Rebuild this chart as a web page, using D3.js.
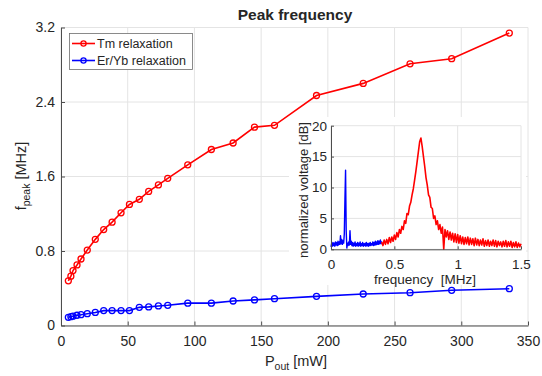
<!DOCTYPE html>
<html lang="en">
<head>
<meta charset="UTF-8">
<title>Peak frequency</title>
<script src="https://d3js.org/d3.v7.min.js"></script>
<style>
  body { margin: 0; background: #fff; }
  text { font-family: "Liberation Sans", Arial, Helvetica, sans-serif; fill: #262626; }
</style>
</head>
<body>
<svg id="chart" width="542" height="376"></svg>
<script>
// output power [mW] (shared by both series)
var pout = [5.5, 7.4, 9, 12, 15, 19.7, 25.7, 32, 38.3, 45, 51.3, 58.7, 65.7, 73, 80,
            95, 112.7, 129, 145, 160, 191.5, 226.5, 261.6, 292.8, 336];
// peak frequency [MHz]
var tmPeak = [0.48, 0.53, 0.59, 0.65, 0.714, 0.81, 0.925, 1.03, 1.11, 1.21, 1.30, 1.355, 1.44, 1.51, 1.58,
              1.725, 1.89, 1.96, 2.13, 2.15, 2.47, 2.60, 2.81, 2.865, 3.14];
var erPeak = [0.088, 0.095, 0.10, 0.11, 0.116, 0.127, 0.14, 0.16, 0.16, 0.16, 0.16, 0.195, 0.20, 0.21, 0.217,
              0.24, 0.24, 0.263, 0.275, 0.288, 0.313, 0.338, 0.352, 0.378, 0.395];
var seriesNames = ["Tm relaxation", "Er/Yb relaxation"];

var xTicks = [0, 50, 100, 150, 200, 250, 300, 350];
var yTicks = [0, 0.8, 1.6, 2.4, 3.2];

// inset spectrum, blue part 0 - 0.4 MHz every 0.005 MHz
var blueStart = 0, blueStep = 0.005;
var blueDb = [0.4, 0.9, 0.5, 1.1, 0.6, 1.0, 0.5, 1.2, 0.7, 1.1, 0.6, 1.3, 0.7, 1.2, 0.8, 2.2,
              0.9, 1.6, 0.8, 1.4, 1.0, 2.5, 8.0, 12.8, 3.0, 0.2, 1.0, 0.6, 1.2, 0.7, 3.0, 0.8,
              1.3, 0.6, 1.1, 0.5, 1.0, 0.6, 1.2, 0.5, 0.9, 0.6, 1.1, 0.5, 1.0, 0.6, 1.2, 0.5,
              0.9, 0.6, 1.1, 0.5, 0.9, 0.6, 1.0, 0.5, 1.1, 0.6, 0.9, 0.5, 1.0, 0.6, 1.1, 0.6,
              0.9, 0.7, 1.2, 0.6, 1.1, 0.7, 1.3, 0.7, 1.2, 0.8, 1.4, 0.8, 1.3, 0.9, 1.5, 0.9, 1.3];
// red part 0.4 - 1.5 MHz every 0.01 MHz
var redStart = 0.4, redStep = 0.01;
var redDb = [1.2, 0.6, 1.5, 0.8, 1.6, 0.9, 1.9, 1.1, 2.0, 1.3,
             2.3, 1.6, 2.7, 2.0, 3.2, 2.6, 3.7, 3.2, 4.6, 4.2,
             5.8, 5.6, 7.0, 7.6, 8.8, 9.8, 11.2, 12.6, 14.2, 15.8,
             17.4, 18.0, 16.6, 15.0, 13.4, 11.6, 10.4, 8.8, 8.4, 6.8,
             6.6, 5.0, 5.4, 4.0, 4.6, 3.2, 4.0, 2.6, 3.6, 0.0,
             3.2, 2.0, 3.0, 1.6, 2.8, 1.5, 2.6, 1.2, 2.5, 1.1,
             2.4, 1.0, 2.2, 0.9, 2.0, 0.8, 1.9, 0.9, 2.0, 0.7,
             1.8, 0.8, 1.7, 0.6, 1.8, 0.7, 1.6, 0.6, 1.5, 0.7,
             1.7, 0.5, 1.4, 0.6, 1.5, 0.5, 1.3, 0.6, 1.5, 0.5,
             1.4, 0.4, 1.3, 0.6, 1.2, 0.4, 1.3, 0.5, 1.4, 0.4,
             1.2, 0.5, 1.3, 0.3, 1.1, 0.4, 1.2, 0.3, 1.0, 0.4, 0.9];
var insetXTicks = [0, 0.5, 1, 1.5];
var insetYTicks = [0, 5, 10, 15, 20];

var svg = d3.select("#chart");
var gridColor = "#e4e4e4", axisColor = "#4d4d4d";

var x = d3.scaleLinear().domain([0, 350]).range([61, 528]);
var y = d3.scaleLinear().domain([0, 3.2]).range([325.5, 27.5]);

// grid
var grid = svg.append("g").attr("stroke", gridColor).attr("stroke-width", 1);
grid.selectAll(".gx").data(xTicks).enter().append("line")
    .attr("x1", d => x(d)).attr("x2", d => x(d)).attr("y1", y(0)).attr("y2", y(3.2));
grid.selectAll(".gy").data(yTicks).enter().append("line")
    .attr("x1", x(0)).attr("x2", x(350)).attr("y1", d => y(d)).attr("y2", d => y(d));

// axes, ticks inside
var xAxis = svg.append("g").attr("transform", "translate(0," + y(0) + ")")
    .call(d3.axisBottom(x).tickValues(xTicks).tickSizeInner(-4).tickSizeOuter(0).tickPadding(10.5));
var yAxis = svg.append("g").attr("transform", "translate(" + x(0) + ",0)")
    .call(d3.axisLeft(y).tickValues(yTicks).tickFormat(d3.format("")).tickSizeInner(-4).tickSizeOuter(0).tickPadding(6));
[xAxis, yAxis].forEach(function (a) {
    a.selectAll("path, line").attr("stroke", axisColor);
    a.selectAll("text").style("font-size", "14px").attr("fill", "#262626")
        .style("font-family", '"Liberation Sans", Arial, sans-serif');
});

// title and labels
svg.append("text").attr("x", 295).attr("y", 20).attr("text-anchor", "middle")
    .style("font-size", "15.5px").style("font-weight", "bold").attr("fill", "#000").text("Peak frequency");

var xl = svg.append("text").attr("x", 296).attr("y", 366).attr("text-anchor", "middle").style("font-size", "14.5px");
xl.append("tspan").text("P");
xl.append("tspan").attr("dy", 4).style("font-size", "10.5px").text("out");
xl.append("tspan").attr("dy", -4).text(" [mW]");

var yl = svg.append("text").attr("transform", "translate(26,176) rotate(-90)").attr("text-anchor", "middle").style("font-size", "14.5px");
yl.append("tspan").text("f");
yl.append("tspan").attr("dy", 4).style("font-size", "10.5px").text("peak");
yl.append("tspan").attr("dy", -4).text(" [MHz]");

// series
var colors = ["#ff0000", "#0000ff"];
var series = [tmPeak, erPeak];
var line = d3.line().x(d => x(d[0])).y(d => y(d[1]));
series.forEach(function (vals, k) {
    var pts = pout.map((p, i) => [p, vals[i]]);
    svg.append("path").datum(pts).attr("d", line)
        .attr("fill", "none").attr("stroke", colors[k]).attr("stroke-width", 1.6);
    svg.append("g").selectAll("circle").data(pts).enter().append("circle")
        .attr("cx", d => x(d[0])).attr("cy", d => y(d[1])).attr("r", 3)
        .attr("fill", "none").attr("stroke", colors[k]).attr("stroke-width", 1.3);
});

// legend
var lg = svg.append("g");
lg.append("rect").attr("x", 69.5).attr("y", 33.5).attr("width", 123).attr("height", 36)
    .attr("fill", "#fff").attr("stroke", "#6e6e6e").attr("stroke-width", 0.8);
seriesNames.forEach(function (name, k) {
    var ly = 43.5 + k * 17;
    lg.append("line").attr("x1", 72).attr("x2", 95).attr("y1", ly).attr("y2", ly)
        .attr("stroke", colors[k]).attr("stroke-width", 1.6);
    lg.append("circle").attr("cx", 83.5).attr("cy", ly).attr("r", 2.6)
        .attr("fill", "none").attr("stroke", colors[k]).attr("stroke-width", 1.3);
    lg.append("text").attr("x", 97).attr("y", ly + 4.3).style("font-size", "12.5px").text(name);
});

// ---- inset ----
var ix = d3.scaleLinear().domain([0, 1.5]).range([331, 521]);
var iy = d3.scaleLinear().domain([0, 20]).range([249.3, 125.7]);

svg.append("rect").attr("x", 289).attr("y", 117).attr("width", 237).attr("height", 168).attr("fill", "#fff");

var igrid = svg.append("g").attr("stroke", gridColor).attr("stroke-width", 1);
igrid.selectAll(".gx").data(insetXTicks).enter().append("line")
    .attr("x1", d => ix(d)).attr("x2", d => ix(d)).attr("y1", iy(0)).attr("y2", iy(20));
igrid.selectAll(".gy").data(insetYTicks).enter().append("line")
    .attr("x1", ix(0)).attr("x2", ix(1.5)).attr("y1", d => iy(d)).attr("y2", d => iy(d));

var iline = d3.line().x(d => ix(d[0])).y(d => iy(d[1]));
var bluePts = blueDb.map((v, i) => [blueStart + i * blueStep, v]);
var redPts = redDb.map((v, i) => [redStart + i * redStep, v]);
svg.append("path").datum(bluePts).attr("d", iline).attr("fill", "none")
    .attr("stroke", "#0000ff").attr("stroke-width", 1.4).attr("stroke-linejoin", "round");
svg.append("path").datum(redPts).attr("d", iline).attr("fill", "none")
    .attr("stroke", "#ff0000").attr("stroke-width", 1.6).attr("stroke-linejoin", "round");

var ixAxis = svg.append("g").attr("transform", "translate(0," + iy(0) + ")")
    .call(d3.axisBottom(ix).tickValues(insetXTicks).tickFormat(d3.format("")).tickSizeInner(-3).tickSizeOuter(0).tickPadding(10));
var iyAxis = svg.append("g").attr("transform", "translate(" + ix(0) + ",0)")
    .call(d3.axisLeft(iy).tickValues(insetYTicks).tickSizeInner(-3).tickSizeOuter(0).tickPadding(4));
[ixAxis, iyAxis].forEach(function (a) {
    a.selectAll("path, line").attr("stroke", axisColor);
    a.selectAll("text").style("font-size", "13.5px").attr("fill", "#262626")
        .style("font-family", '"Liberation Sans", Arial, sans-serif');
});

svg.append("text").attr("x", 425).attr("y", 284).attr("text-anchor", "middle")
    .style("font-size", "13.5px").attr("xml:space", "preserve").text("frequency  [MHz]");
svg.append("text").attr("transform", "translate(308,190) rotate(-90)").attr("text-anchor", "middle")
    .style("font-size", "13px").text("normalized voltage [dB]");
</script>
</body>
</html>
